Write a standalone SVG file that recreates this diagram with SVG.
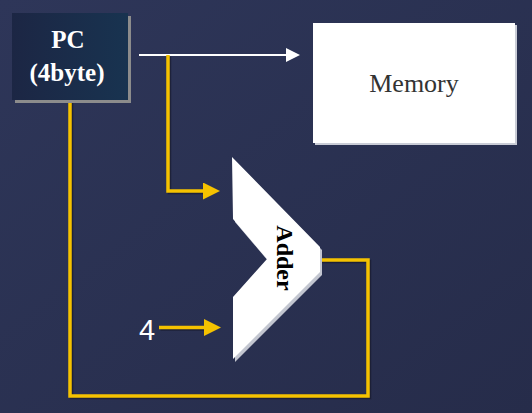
<svg xmlns="http://www.w3.org/2000/svg" width="532" height="413" viewBox="0 0 532 413">
<defs>
<linearGradient id="bg" x1="0" y1="0" x2="1" y2="1">
<stop offset="0" stop-color="#2e3659"/>
<stop offset="1" stop-color="#262c4a"/>
</linearGradient>
<linearGradient id="pcfill" x1="0" y1="0" x2="1" y2="0">
<stop offset="0" stop-color="#1c2644"/>
<stop offset="1" stop-color="#183350"/>
</linearGradient>
<marker id="ya" viewBox="0 0 17 17" refX="8" refY="8.5" markerWidth="17" markerHeight="17" markerUnits="userSpaceOnUse" orient="auto">
<path d="M0,0 L17,8.5 L0,17 z" fill="#f5c200"/>
</marker>
<marker id="wa" viewBox="0 0 14 14" refX="6" refY="7" markerWidth="14" markerHeight="14" markerUnits="userSpaceOnUse" orient="auto">
<path d="M0,0 L14,7 L0,14 z" fill="#ffffff"/>
</marker>
<style>
.y{fill:none;stroke:#f5c200;stroke-width:3.5}
.ys{fill:none;stroke:#15182a;stroke-width:3.5;opacity:0.6}
.w{fill:none;stroke:#ffffff;stroke-width:2}
.serif{font-family:"Liberation Serif","Times New Roman",serif}
</style>
</defs>
<rect width="532" height="413" fill="url(#bg)"/>

<g id="connectors">
<path class="ys" d="M169.5,56.5 V192.5 H212"/>
<path class="ys" d="M160.5,329 H213"/>
<path class="ys" d="M321,261.5 H369.5 V397.5 H71.5 V102"/>
<path class="w" d="M139,55 H292" marker-end="url(#wa)"/>
<path class="y" d="M168,55 V191 H211" marker-end="url(#ya)"/>
<path class="y" d="M159,327.5 H212" marker-end="url(#ya)"/>
<path class="y" d="M320,260 H368 V396 H70 V101"/>
</g>

<g id="pc">
<rect x="15" y="16" width="116" height="87" fill="#8c8c8c"/>
<rect x="12" y="13" width="116" height="87" fill="url(#pcfill)"/>
<text class="serif" x="68" y="48" font-size="25" font-weight="bold" fill="#ffffff" text-anchor="middle">PC</text>
<text class="serif" x="67" y="81" font-size="25" font-weight="bold" fill="#ffffff" text-anchor="middle">(4byte)</text>
</g>

<g id="memory">
<rect x="315" y="25" width="202" height="120" fill="#c9ccd6"/>
<rect x="313" y="23" width="202" height="120" fill="#ffffff"/>
<text class="serif" x="414" y="92" font-size="26" fill="#333333" text-anchor="middle">Memory</text>
</g>

<g id="adder">
<polygon points="234,160 322,250 322,275 235,362 235,300 269,262 235,222" fill="#c3c6d0"/>
<polygon points="232,157 320,247 320,272 233,359 233,297 267,259 233,219" fill="#ffffff"/>
<text class="serif" transform="translate(277 258) rotate(90)" font-size="24" font-weight="bold" fill="#000000" text-anchor="middle">Adder</text>
</g>

<g id="four">
<text x="139" y="340" font-family="Liberation Sans, Arial, sans-serif" font-size="29" fill="#ffffff">4</text>
</g>
</svg>
